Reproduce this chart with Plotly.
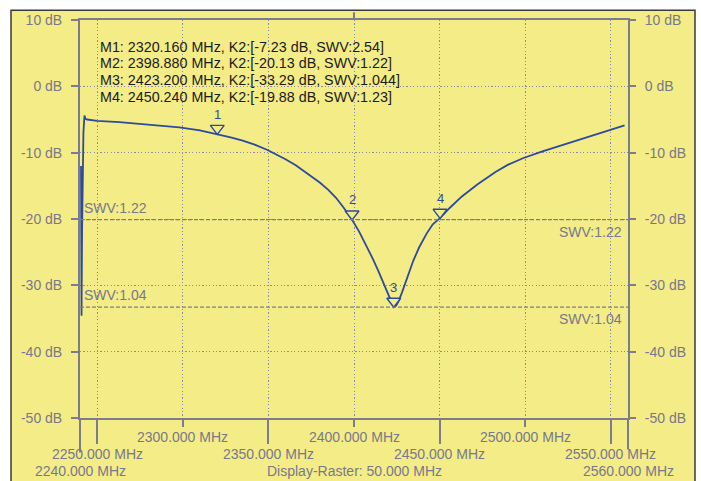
import plotly.graph_objects as go

# ---------------- data ----------------
freq_mhz = [2240.6, 2240.9, 2241.2, 2241.6, 2242.0, 2242.6, 2243.2, 2244.2, 2250.0, 2263.0,
            2280.0, 2298.0, 2310.0, 2320.16, 2328.0, 2335.0, 2342.0, 2349.5, 2355.0, 2360.0,
            2366.0, 2371.0, 2376.0, 2380.0, 2385.0, 2389.5, 2394.0, 2398.88, 2403.0, 2407.0,
            2411.0, 2414.0, 2417.0, 2420.0, 2422.0, 2423.2, 2424.5, 2426.0, 2428.0, 2431.0,
            2434.6, 2438.0, 2442.4, 2446.0, 2450.24, 2456.0, 2463.0, 2472.0, 2482.6, 2490.0,
            2499.0, 2509.6, 2520.0, 2531.0, 2540.0, 2548.7, 2558.0]
s11_db = [-12.0, -34.6, -22.0, -12.5, -7.0, -4.4, -4.9, -5.0, -5.2, -5.4,
          -5.75, -6.2, -6.65, -7.23, -7.7, -8.2, -8.8, -9.6, -10.3, -11.0,
          -11.9, -12.8, -13.7, -14.5, -15.6, -16.8, -18.3, -20.13, -21.9, -23.9,
          -26.0, -27.7, -29.5, -31.4, -32.7, -33.29, -33.1, -32.4, -31.1, -28.9,
          -26.3, -24.3, -22.2, -20.8, -19.88, -18.3, -16.6, -14.8, -12.9, -11.8,
          -10.8, -9.85, -9.0, -8.1, -7.4, -6.7, -5.9]

marker_ids = ["1", "2", "3", "4"]
marker_freq = [2320.160, 2398.880, 2423.200, 2450.240]
marker_db = [-7.23, -20.13, -33.29, -19.88]
marker_swv = ["2.54", "1.22", "1.044", "1.23"]

swv_labels = ["SWV:1.22", "SWV:1.04"]
swv_db = [-20.1, -33.29]

y_ticks = [10, 0, -10, -20, -30, -40, -50]
x_row1 = [2300, 2400, 2500]
x_row2 = [2250, 2350, 2450, 2550]
x_start, x_stop = 2240, 2560
raster_mhz = 50

# ---------------- styling ----------------
W, H = 701, 481
L, R, T, B = 80, 73, 13, 63
PW, PH = W - L - R, H - T - B

YELLOW = "#F4EC86"
BLUE = "#2C4B9E"
GRAY = "#7C7C8E"
GRID = "#8A8AA6"
TXT = "#78788C"
FONT = "Liberation Sans, Arial, sans-serif"


def px_x(px):
    return (px - L) / PW


def px_y(py):
    return (T + PH - py) / PH


def mhz(v):
    return f"{v:.3f} MHz"


fig = go.Figure()

# SWV reference lines
for lab, lvl in zip(swv_labels, swv_db):
    fig.add_trace(go.Scatter(x=[x_start, x_stop], y=[lvl, lvl], mode="lines",
                             line=dict(color=GRAY, width=1.3, dash="4px,2px"),
                             hoverinfo="skip", showlegend=False, yaxis="y2"))

# measurement curve
fig.add_trace(go.Scatter(x=freq_mhz, y=s11_db, mode="lines",
                         line=dict(color=BLUE, width=1.8), showlegend=False))

# marker triangles (apex at the measured point)
TRI = 12
tri_offset_db = (0.5 * TRI) * 60 / PH
fig.add_trace(go.Scatter(x=marker_freq, y=[d + tri_offset_db for d in marker_db],
                         mode="markers",
                         marker=dict(symbol="triangle-down", size=TRI, color=YELLOW,
                                     line=dict(color=BLUE, width=1.4)),
                         showlegend=False))

annotations = []
for mid, f, d in zip(marker_ids, marker_freq, marker_db):
    annotations.append(dict(x=f, y=d, xref="x", yref="y", text=mid, showarrow=False,
                            yanchor="middle", yshift=20,
                            font=dict(family=FONT, size=13, color=BLUE)))

# marker readout
for i, (mid, f, d, s) in enumerate(zip(marker_ids, marker_freq, marker_db, marker_swv)):
    annotations.append(dict(x=px_x(98), y=px_y(40 + 17.2 * i), xref="paper", yref="paper",
                            xanchor="left", yanchor="middle", showarrow=False,
                            text=f"M{mid}: {f:.3f} MHz, K2:[{d:.2f} dB, SWV:{s}]",
                            font=dict(family=FONT, size=14.3, color="#1b1b1b")))

# SWV labels
for lab, lvl in zip(swv_labels, swv_db):
    annotations.append(dict(x=x_start, y=lvl, xref="x", yref="y", xanchor="left",
                            yanchor="middle", xshift=2, yshift=12, text=lab, showarrow=False,
                            font=dict(family=FONT, size=14, color=TXT)))
    annotations.append(dict(x=x_stop, y=lvl, xref="x", yref="y", xanchor="right",
                            yanchor="middle", xshift=-4, yshift=-12, text=lab, showarrow=False,
                            font=dict(family=FONT, size=14, color=TXT)))

# frequency labels (three staggered rows)
for v in x_row1:
    annotations.append(dict(x=v, y=px_y(437), xref="x", yref="paper", yanchor="middle",
                            text=mhz(v), showarrow=False,
                            font=dict(family=FONT, size=14, color=TXT)))
for v in x_row2:
    annotations.append(dict(x=v, y=px_y(454.5), xref="x", yref="paper", yanchor="middle",
                            text=mhz(v), showarrow=False,
                            font=dict(family=FONT, size=14, color=TXT)))
annotations.append(dict(x=x_start, y=px_y(471.5), xref="x", yref="paper", yanchor="middle",
                        text=mhz(x_start), showarrow=False,
                        font=dict(family=FONT, size=14, color=TXT)))
annotations.append(dict(x=x_stop, y=px_y(471.5), xref="x", yref="paper", yanchor="middle",
                        text=mhz(x_stop), showarrow=False,
                        font=dict(family=FONT, size=14, color=TXT)))
annotations.append(dict(x=0.5, y=px_y(471.5), xref="paper", yref="paper", yanchor="middle",
                        text=f"Display-Raster: {raster_mhz:.3f} MHz", showarrow=False,
                        font=dict(family=FONT, size=14, color=TXT)))

shapes = [
    # outer panel frame
    dict(type="rect", xref="paper", yref="paper", x0=px_x(11), x1=px_x(695),
         y0=px_y(495), y1=px_y(3), fillcolor=YELLOW, line=dict(color="#3a3a3a", width=1.5),
         layer="below"),
    # axis lines extended below the plot
    dict(type="line", xref="paper", yref="paper", x0=0, x1=0, y0=0, y1=px_y(453),
         line=dict(color=GRAY, width=2)),
    dict(type="line", xref="paper", yref="paper", x0=1, x1=1, y0=0, y1=px_y(450),
         line=dict(color=GRAY, width=2)),
    # centre tick on top
    dict(type="line", xref="paper", yref="paper", x0=0.5, x1=0.5, y0=1, y1=px_y(5),
         line=dict(color=GRAY, width=2)),
]

yaxis_common = dict(range=[-50, 10], tickvals=y_ticks, ticktext=[f"{v} dB" for v in y_ticks],
                    ticks="outside", ticklen=7, tickwidth=2, tickcolor=GRAY,
                    tickfont=dict(family=FONT, size=14, color=TXT), ticklabelstandoff=6,
                    zeroline=False, fixedrange=True)

fig.update_layout(
    width=W, height=H,
    margin=dict(l=L, r=R, t=T, b=B, pad=0),
    paper_bgcolor="white", plot_bgcolor=YELLOW,
    showlegend=False,
    xaxis=dict(range=[x_start, x_stop], tickvals=x_row2, showticklabels=False,
               ticks="outside", ticklen=24, tickwidth=2, tickcolor=GRAY,
               showgrid=True, gridcolor=GRID, gridwidth=1.2, griddash="1.2px,2.2px",
               minor=dict(tickvals=x_row1, ticks="outside", ticklen=7, tickwidth=2,
                          tickcolor=GRAY, showgrid=True, gridcolor=GRID, gridwidth=1.2,
                          griddash="1.2px,2.2px"),
               showline=True, linecolor=GRAY, linewidth=2, mirror=True,
               zeroline=False, fixedrange=True),
    yaxis=dict(**yaxis_common, showgrid=True, gridcolor=GRID, gridwidth=1.2,
               griddash="1.2px,2.2px", showline=True, linecolor=GRAY, linewidth=2,
               mirror=True),
    yaxis2=dict(**yaxis_common, overlaying="y", side="right", showgrid=False,
                showline=False),
    annotations=annotations,
    shapes=shapes,
)

fig.write_html("out.html")
